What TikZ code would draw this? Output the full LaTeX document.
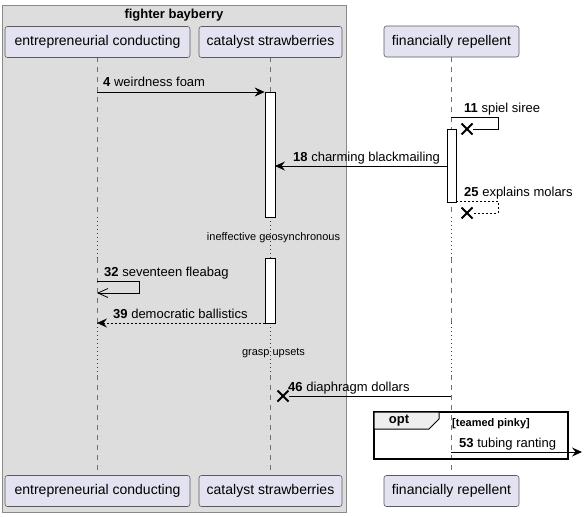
\documentclass[tikz,border=0pt]{standalone}
\usepackage{fontspec}
\setmainfont{Liberation Sans}
\usetikzlibrary{arrows.meta}
\definecolor{grpfill}{HTML}{DDDDDD}
\definecolor{grpline}{HTML}{8A8A8A}
\definecolor{partfill}{HTML}{E2E2F0}
\definecolor{partline}{HTML}{5A5A5A}
\definecolor{lifecol}{HTML}{707070}
\definecolor{delayred}{HTML}{A80036}
\definecolor{tabfill}{HTML}{EEEEEE}
\begin{document}
\begin{tikzpicture}[x=1pt,y=-1pt,
  participant/.style={draw=partline, fill=partfill, rounded corners=2.5pt, line width=0.6pt,
    font=\fontsize{14}{16}\selectfont, minimum height=31pt, inner sep=0pt},
  lifedash/.style={draw=lifecol, line width=0.6pt, dash pattern=on 5pt off 5pt},
  lifedot/.style={draw=delayred, line width=0.7pt, dash pattern=on 1pt off 3pt},
  actbox/.style={draw=black, fill=white, line width=0.7pt, minimum width=10pt, inner sep=0pt},
  msg/.style={draw=black, line width=0.8pt, -{Stealth[length=10pt,width=9pt,inset=3.5pt]}},
  msgopen/.style={draw=black, line width=0.8pt, -{Straight Barb[length=10pt,width=9pt,line width=0.8pt]}},
  msgline/.style={draw=black, line width=0.8pt},
  retdash/.style={dash pattern=on 2pt off 2pt},
  xmark/.style={draw=black, line width=1.8pt},
  mlabel/.style={anchor=base west, inner sep=0pt, font=\fontsize{13}{15}\selectfont},
  delaytext/.style={inner sep=0pt, font=\fontsize{11}{13}\selectfont},
]
\useasboundingbox (0,0) rectangle (584,517);

% group box
\draw[fill=grpfill, draw=grpline, line width=0.8pt] (2,5) rectangle (346,512);
\node[font=\bfseries\fontsize{13}{15}\selectfont, inner sep=0pt] (grptitle) at (174,15) {fighter bayberry};

% lifelines
\foreach \lx in {97,451}{
  \draw[lifedash] (\lx,57) -- (\lx,217);
  \draw[lifedot] (\lx,217) -- (\lx,258);
  \draw[lifedash] (\lx,258) -- (\lx,323);
  \draw[lifedot] (\lx,323) -- (\lx,375);
  \draw[lifedash] (\lx,375) -- (\lx,475);
}
\draw[lifedash] (270,57) -- (270,92);
\draw[lifedot] (270,217) -- (270,258);
\draw[lifedot] (270,323) -- (270,375);
\draw[lifedash] (270,375) -- (270,475);

% participants
\node[participant, minimum width=185pt] (pa) at (97.5,42) {entrepreneurial conducting};
\node[participant, minimum width=143pt] (pb) at (270.5,42) {catalyst strawberries};
\node[participant, minimum width=135pt] (pc) at (451.5,41.5) {financially repellent};
\node[participant, minimum width=185pt] (pa2) at (97.5,491) {entrepreneurial conducting};
\node[participant, minimum width=143pt] (pb2) at (270.5,491) {catalyst strawberries};
\node[participant, minimum width=135pt] (pc2) at (451.5,491) {financially repellent};

% activations
\node[actbox, minimum height=125pt, anchor=north] (act1) at (270,92) {};
\node[actbox, minimum height=65pt, anchor=north] (act2) at (270,258) {};
\node[actbox, minimum width=9pt, minimum height=73pt, anchor=north] (act3) at (451.5,129) {};

% coordinates
\coordinate (m4s) at (97,92);
\coordinate (m11s) at (451,117);
\coordinate (x11) at (467,129);
\coordinate (m18s) at (447,166);
\coordinate (m18e) at (275,166);
\coordinate (m25s) at (456,201);
\coordinate (x25) at (467,213);
\coordinate (m32s) at (97,281);
\coordinate (m32e) at (97,293);
\coordinate (m39s) at (265,323);
\coordinate (m39e) at (97,323);
\coordinate (m46s) at (451,396);
\coordinate (x46) at (283,396);
\coordinate (m53s) at (451,452);
\coordinate (m53e) at (582,452);

% 4
\draw[msg] (m4s) -- (act1.north west);
\node[mlabel] (l4) at (103,86) {\textbf{4} weirdness foam};

% 11
\draw[msgline] (m11s) -- ++(47,0) |- ([xshift=6pt]x11);
\draw[xmark] ([shift={(-5.5,-5.5)}]x11) -- ([shift={(5.5,5.5)}]x11)
             ([shift={(-5.5,5.5)}]x11) -- ([shift={(5.5,-5.5)}]x11);
\node[mlabel] (l11) at (464,112) {\textbf{11} spiel siree};

% 18
\draw[msg] (m18s) -- (m18e);
\node[mlabel] (l18) at (293,161) {\textbf{18} charming blackmailing};

% 25
\draw[msgline, retdash] (m25s) -- ++(42,0) |- ([xshift=6pt]x25);
\draw[xmark] ([shift={(-5.5,-5.5)}]x25) -- ([shift={(5.5,5.5)}]x25)
             ([shift={(-5.5,5.5)}]x25) -- ([shift={(5.5,-5.5)}]x25);
\node[mlabel] (l25) at (464,196) {\textbf{25} explains molars};

% delay 1
\node[delaytext] (d1) at (273.5,238) {ineffective geosynchronous};

% 32
\draw[msgopen] (m32s) -- ++(42,0) |- (m32e);
\node[mlabel] (l32) at (104,276) {\textbf{32} seventeen fleabag};

% 39
\draw[msg, retdash] (m39s) -- (m39e);
\node[mlabel] (l39) at (113,318) {\textbf{39} democratic ballistics};

% delay 2
\node[delaytext] (d2) at (273.5,353) {grasp upsets};

% 46
\draw[msgline] (m46s) -- ([xshift=6pt]x46);
\draw[xmark] ([shift={(-5.5,-5.5)}]x46) -- ([shift={(5.5,5.5)}]x46)
             ([shift={(-5.5,5.5)}]x46) -- ([shift={(5.5,-5.5)}]x46);
\node[mlabel] (l46) at (288,391) {\textbf{46} diaphragm dollars};

% opt fragment
\draw[draw=black, line width=1.5pt] (374,412) rectangle (568,459);
\draw[draw=black, fill=tabfill, line width=1pt] (374,412) -- (439,412) -- (439,419) -- (429,429) -- (374,429) -- cycle;
\node[font=\bfseries\fontsize{13}{15}\selectfont, inner sep=0pt] (optlbl) at (399,421) {opt};
\node[anchor=base west, inner sep=0pt, font=\bfseries\fontsize{11}{13}\selectfont] (guard) at (452,426) {[teamed pinky]};

% 53
\draw[msg] (m53s) -- (m53e);
\node[mlabel] (l53) at (459,447) {\textbf{53} tubing ranting};

\end{tikzpicture}
\end{document}
